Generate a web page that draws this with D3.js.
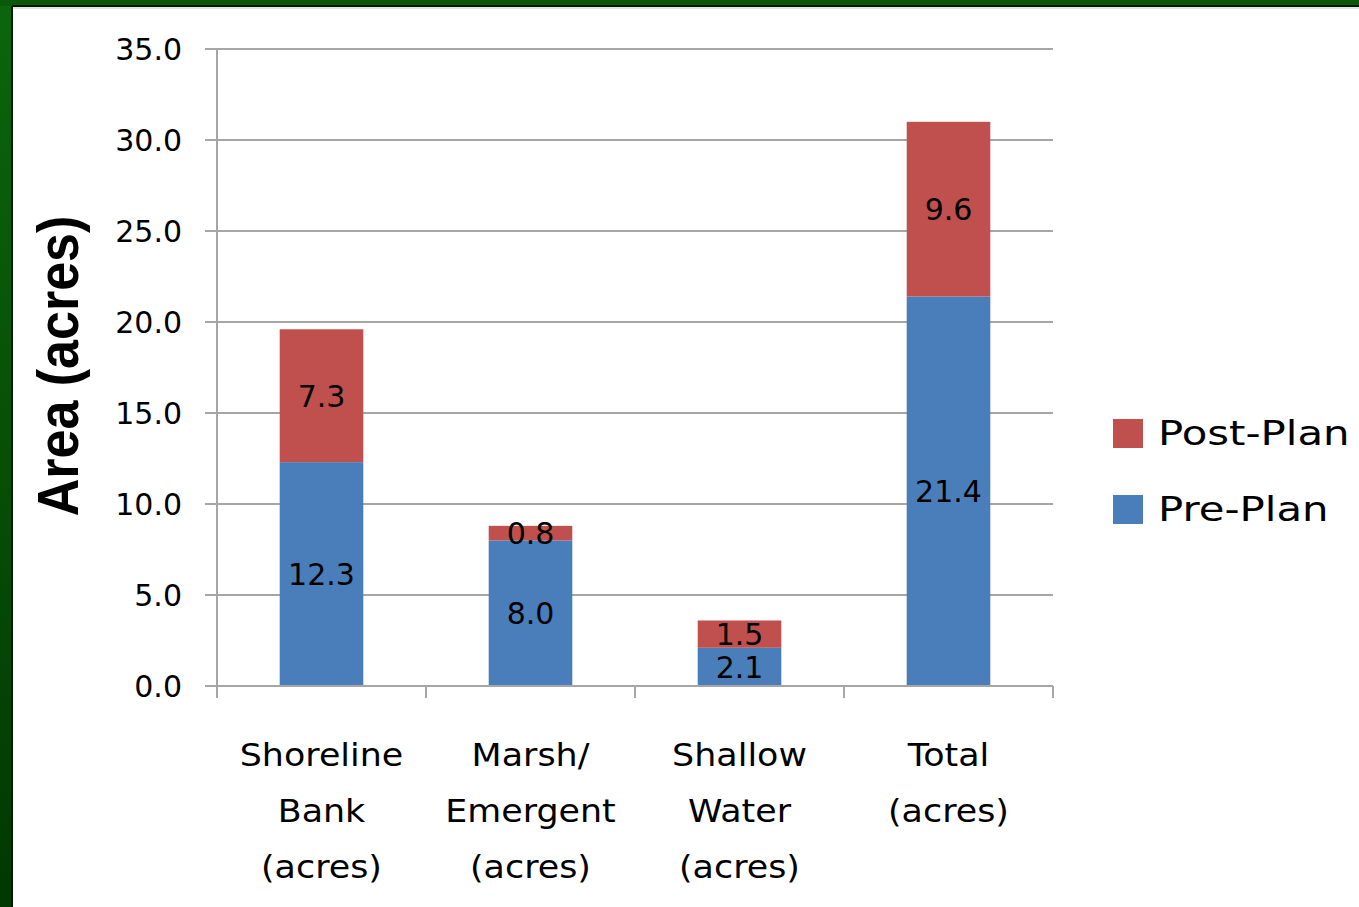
<!DOCTYPE html>
<html>
<head>
<meta charset="utf-8">
<script src="https://cdn.jsdelivr.net/npm/d3@7"></script>
<style>
  body { margin: 0; background: #fff; }
  svg { display: block; }
</style>
</head>
<body>
<svg width="1359" height="907"></svg>
<script>
// chart data
var categories = [
  ["Shoreline", "Bank", "(acres)"],
  ["Marsh/", "Emergent", "(acres)"],
  ["Shallow", "Water", "(acres)"],
  ["Total", "(acres)"]
];
var prePlan = [12.3, 8.0, 2.1, 21.4];
var postPlan = [7.3, 0.8, 1.5, 9.6];
var yTicks = [0, 5, 10, 15, 20, 25, 30, 35];
var seriesNames = ["Post-Plan", "Pre-Plan"];

var svg = d3.select("svg"),
    width = +svg.attr("width"),
    height = +svg.attr("height");

var blue = "#4a7ebb", red = "#c0504d", grid = "#a6a6a6";

// green slide frame on left and top
var defs = svg.append("defs");
var grad = defs.append("linearGradient").attr("id", "frame").attr("x1", 0).attr("y1", 0).attr("x2", 0).attr("y2", 1);
grad.append("stop").attr("offset", "0%").attr("stop-color", "#0b660b");
grad.append("stop").attr("offset", "100%").attr("stop-color", "#023802");

svg.append("rect").attr("x", 0).attr("y", 0).attr("width", 13).attr("height", height).attr("fill", "url(#frame)");
svg.append("rect").attr("x", 0).attr("y", 0).attr("width", width).attr("height", 6).attr("fill", "#0a580a");
svg.append("line").attr("x1", 12).attr("x2", 12).attr("y1", 6).attr("y2", height).attr("stroke", "#021a02").attr("stroke-width", 2);
svg.append("line").attr("x1", 12).attr("x2", width).attr("y1", 6).attr("y2", 6).attr("stroke", "#021a02").attr("stroke-width", 2);
svg.append("line").attr("x1", 13).attr("x2", width).attr("y1", 8).attr("y2", 8).attr("stroke", "#c8c8c8").attr("stroke-width", 1);

var x = d3.scaleBand()
    .domain(d3.range(categories.length))
    .range([217, 1053])
    .paddingInner(0.6)
    .paddingOuter(0.3);

var y = d3.scaleLinear().domain([0, 35]).range([686, 49]);

// gridlines + y ticks
svg.append("g").selectAll("line")
  .data(yTicks)
  .enter().append("line")
    .attr("x1", 205).attr("x2", 1053)
    .attr("y1", function(d) { return y(d); })
    .attr("y2", function(d) { return y(d); })
    .attr("stroke", grid).attr("stroke-width", 2);

svg.append("g").selectAll("text")
  .data(yTicks)
  .enter().append("text")
    .attr("x", 182)
    .attr("y", function(d) { return y(d); })
    .attr("dy", "0.36em")
    .attr("text-anchor", "end")
    .style("font", "30px 'DejaVu Sans'")
    .text(function(d) { return d3.format(".1f")(d); });

// stacked bars
var stack = categories.map(function(c, i) {
  return [
    {i: i, y0: 0, y1: prePlan[i], v: prePlan[i], color: blue},
    {i: i, y0: prePlan[i], y1: prePlan[i] + postPlan[i], v: postPlan[i], color: red}
  ];
});
var segs = [].concat.apply([], stack);

svg.append("g").selectAll("rect")
  .data(segs)
  .enter().append("rect")
    .attr("x", function(d) { return x(d.i); })
    .attr("width", x.bandwidth())
    .attr("y", function(d) { return y(d.y1); })
    .attr("height", function(d) { return y(d.y0) - y(d.y1); })
    .attr("fill", function(d) { return d.color; });

svg.append("g").selectAll("text")
  .data(segs)
  .enter().append("text")
    .attr("x", function(d) { return x(d.i) + x.bandwidth() / 2; })
    .attr("y", function(d) { return y((d.y0 + d.y1) / 2); })
    .attr("dy", "0.36em")
    .attr("text-anchor", "middle")
    .style("font", "30px 'DejaVu Sans'")
    .text(function(d) { return d3.format(".1f")(d.v); });

// axes lines
svg.append("line").attr("x1", 217).attr("x2", 217).attr("y1", 49).attr("y2", 698)
  .attr("stroke", grid).attr("stroke-width", 2);
svg.append("line").attr("x1", 205).attr("x2", 1053).attr("y1", 686).attr("y2", 686)
  .attr("stroke", grid).attr("stroke-width", 2);
var bounds = d3.range(categories.length + 1).map(function(i) { return 217 + i * x.step(); });
svg.append("g").selectAll("line")
  .data(bounds)
  .enter().append("line")
    .attr("x1", function(d) { return d; }).attr("x2", function(d) { return d; })
    .attr("y1", 686).attr("y2", 698)
    .attr("stroke", grid).attr("stroke-width", 2);

// category labels
var cat = svg.append("g").selectAll("g")
  .data(categories)
  .enter().append("g")
    .attr("transform", function(d, i) { return "translate(" + (x(i) + x.bandwidth() / 2) + ",0) scale(1.09,1)"; });
cat.selectAll("text")
  .data(function(d) { return d; })
  .enter().append("text")
    .attr("x", 0)
    .attr("y", function(d, j) { return 766 + j * 56; })
    .attr("text-anchor", "middle")
    .style("font", "32px 'DejaVu Sans'")
    .text(function(d) { return d; });

// y axis title
svg.append("text")
  .attr("transform", "translate(78,366) rotate(-90) scale(1,1.1)")
  .attr("text-anchor", "middle")
  .style("font", "bold 52px 'Liberation Sans'")
  .text("Area (acres)");

// legend
var legY = [433, 509];
var leg = svg.append("g").selectAll("g")
  .data(seriesNames)
  .enter().append("g")
    .attr("transform", function(d, i) { return "translate(1113," + legY[i] + ")"; });
leg.append("rect")
  .attr("x", 0).attr("y", -14).attr("width", 30).attr("height", 29)
  .attr("fill", function(d, i) { return i === 0 ? red : blue; });
leg.append("text")
  .attr("transform", "translate(45,0) scale(1.23,1)")
  .attr("dy", "0.36em")
  .style("font", "34px 'DejaVu Sans'")
  .text(function(d) { return d; });
</script>
</body>
</html>
